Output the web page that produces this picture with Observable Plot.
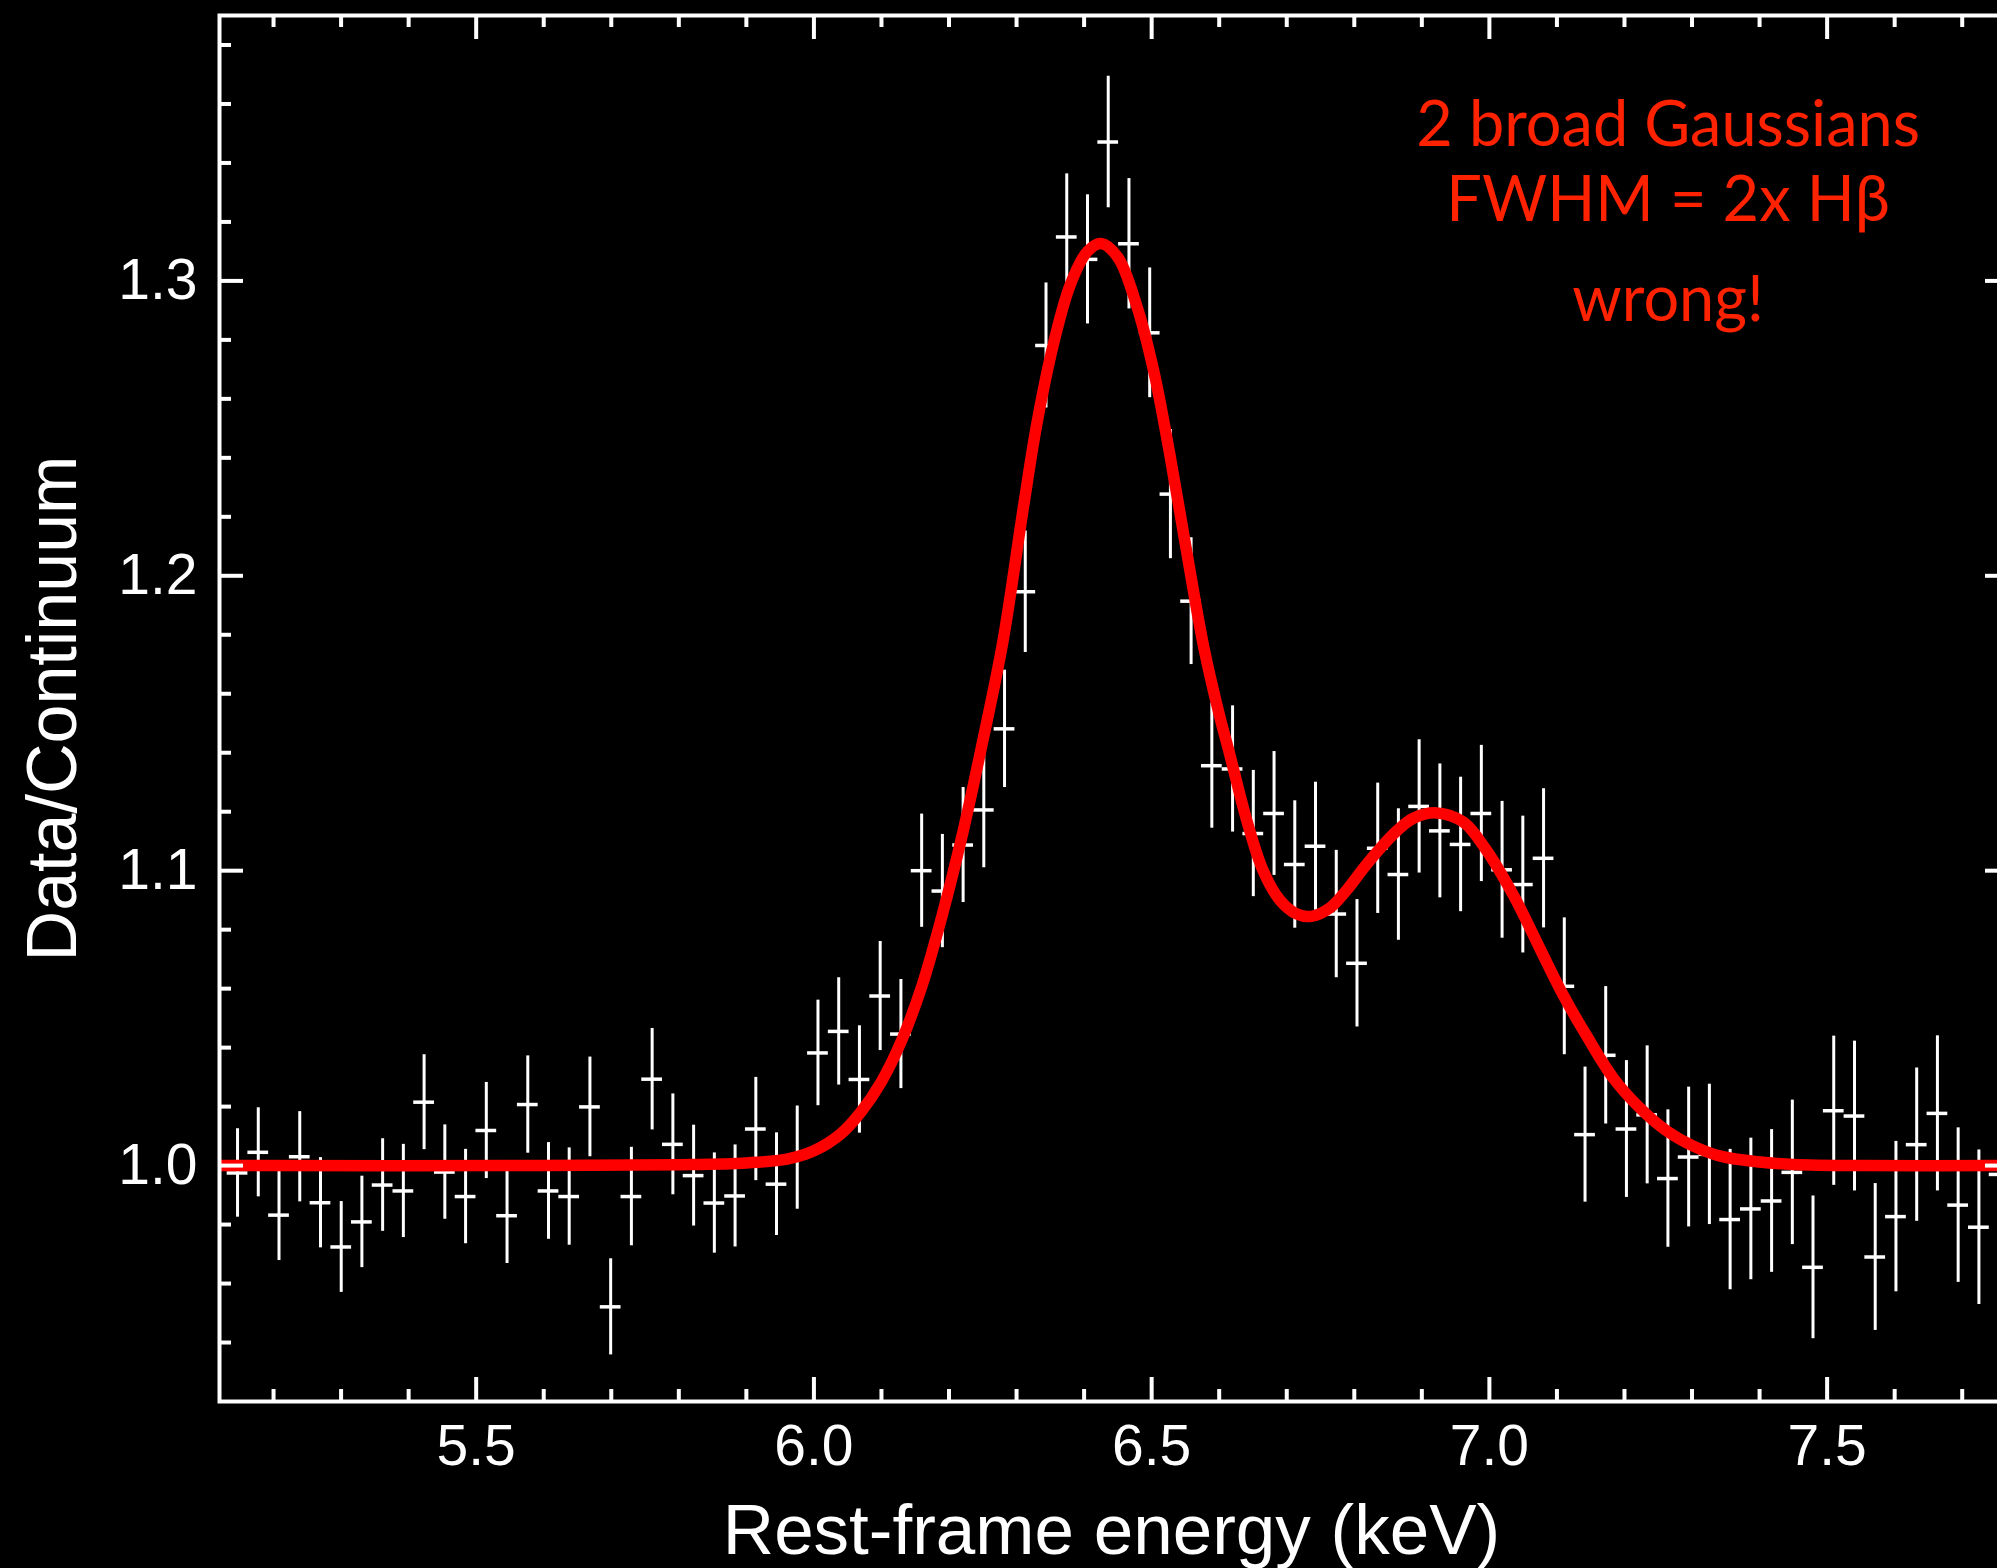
<!DOCTYPE html>
<html>
<head>
<meta charset="utf-8">
<script src="https://cdn.jsdelivr.net/npm/d3@7"></script>
<script src="https://cdn.jsdelivr.net/npm/@observablehq/plot@0.6"></script>
<style>
  html, body { margin: 0; padding: 0; background: #000; }
  #chart svg { display: block; }
</style>
</head>
<body>
<div id="chart"></div>
<script>
// ---- Data ----
const energy = [
  5.1467, 5.1774, 5.2081, 5.2388, 5.2695, 5.3002, 5.3308, 5.3615, 5.3922, 5.4229,
  5.4536, 5.4843, 5.5150, 5.5457, 5.5764, 5.6071, 5.6377, 5.6684, 5.6991, 5.7298,
  5.7605, 5.7912, 5.8219, 5.8526, 5.8833, 5.9140, 5.9446, 5.9753, 6.0060, 6.0367,
  6.0674, 6.0981, 6.1288, 6.1595, 6.1902, 6.2209, 6.2515, 6.2822, 6.3129, 6.3436,
  6.3743, 6.4050, 6.4357, 6.4664, 6.4971, 6.5278, 6.5584, 6.5891, 6.6198, 6.6505,
  6.6812, 6.7119, 6.7426, 6.7733, 6.8040, 6.8347, 6.8653, 6.8960, 6.9267, 6.9574,
  6.9881, 7.0188, 7.0495, 7.0802, 7.1109, 7.1416, 7.1722, 7.2029, 7.2336, 7.2643,
  7.2950, 7.3257, 7.3564, 7.3871, 7.4178, 7.4485, 7.4791, 7.5098, 7.5405, 7.5712,
  7.6019, 7.6326, 7.6633, 7.6940, 7.7247, 7.7554
];
const ratio = [
  0.9975, 1.0045, 0.9832, 1.0030, 0.9874, 0.9724, 0.9809, 0.9934, 0.9914, 1.0215,
  0.9978, 0.9895, 1.0119, 0.9830, 1.0207, 0.9914, 0.9895, 1.0199, 0.9521, 0.9895,
  1.0293, 1.0072, 0.9966, 0.9873, 0.9897, 1.0124, 0.9937, 1.0027, 1.0382, 1.0455,
  1.0292, 1.0575, 1.0446, 1.1000, 1.0931, 1.1087, 1.1206, 1.1481, 1.1946, 1.2781,
  1.3149, 1.3073, 1.3471, 1.3126, 1.2824, 1.2277, 1.1914, 1.1356, 1.1345, 1.1126,
  1.1194, 1.1021, 1.1083, 1.0853, 1.0686, 1.1076, 1.0987, 1.1218, 1.1135, 1.1089,
  1.1194, 1.1003, 1.0953, 1.1042, 1.0608, 1.0105, 1.0374, 1.0124, 1.0172, 0.9956,
  1.0029, 1.0038, 0.9817, 0.9853, 0.9880, 0.9977, 0.9655, 1.0186, 1.0168, 0.9690,
  0.9827, 1.0071, 1.0177, 0.9866, 0.9791, 0.9970
];
const ratioErr = [
  0.0150, 0.0151, 0.0154, 0.0153, 0.0153, 0.0154, 0.0155, 0.0157, 0.0158, 0.0161,
  0.0160, 0.0160, 0.0163, 0.0162, 0.0165, 0.0164, 0.0165, 0.0169, 0.0163, 0.0167,
  0.0172, 0.0171, 0.0171, 0.0170, 0.0173, 0.0175, 0.0174, 0.0175, 0.0179, 0.0182,
  0.0182, 0.0185, 0.0185, 0.0192, 0.0192, 0.0195, 0.0196, 0.0199, 0.0206, 0.0212,
  0.0214, 0.0219, 0.0223, 0.0221, 0.0220, 0.0219, 0.0215, 0.0212, 0.0214, 0.0214,
  0.0210, 0.0216, 0.0217, 0.0216, 0.0216, 0.0221, 0.0223, 0.0226, 0.0227, 0.0228,
  0.0231, 0.0232, 0.0232, 0.0236, 0.0232, 0.0229, 0.0233, 0.0232, 0.0234, 0.0233,
  0.0237, 0.0238, 0.0238, 0.0240, 0.0242, 0.0245, 0.0242, 0.0253, 0.0254, 0.0249,
  0.0255, 0.0260, 0.0263, 0.0262, 0.0262, 0.0262
];
const binHalfWidth = 0.01535;

// Red model curve (2 broad Gaussians)
const modelEnergy = [
  5.12, 5.60, 5.80, 5.90, 5.96, 6.00, 6.04, 6.07, 6.10, 6.13,
  6.16, 6.19, 6.22, 6.25, 6.28, 6.31, 6.33, 6.355, 6.38, 6.405,
  6.425, 6.45, 6.478, 6.503, 6.527, 6.552, 6.577, 6.60, 6.615, 6.641,
  6.665, 6.690, 6.715, 6.736, 6.764, 6.789, 6.8135, 6.838, 6.863, 6.8875,
  6.922, 6.9614, 6.994, 7.036, 7.075, 7.110, 7.144, 7.184, 7.223, 7.263,
  7.302, 7.342, 7.40, 7.45, 7.55, 7.77
];
const modelRatio = [
  1.0000, 1.0000, 1.0003, 1.0009, 1.0022, 1.0050, 1.0108, 1.0183, 1.0285, 1.0425,
  1.0610, 1.0850, 1.1125, 1.1440, 1.1780, 1.2230, 1.2515, 1.2790, 1.2990, 1.3100,
  1.3127, 1.3080, 1.2915, 1.2695, 1.2410, 1.2080, 1.1760, 1.1530, 1.1400, 1.1169,
  1.1000, 1.0900, 1.0853, 1.0845, 1.0874, 1.0935, 1.1008, 1.1075, 1.1135, 1.1178,
  1.1196, 1.1165, 1.1075, 1.0915, 1.0735, 1.0575, 1.0440, 1.0295, 1.0195, 1.0117,
  1.0066, 1.0032, 1.0012, 1.0004, 1.0000, 1.0000
];

const xMajorTicks = [5.5, 6.0, 6.5, 7.0, 7.5];
const xMinorTicks = [5.2, 5.3, 5.4, 5.6, 5.7, 5.8, 5.9, 6.1, 6.2, 6.3, 6.4, 6.6, 6.7, 6.8, 6.9, 7.1, 7.2, 7.3, 7.4, 7.6, 7.7];
const yMajorTicks = [1.0, 1.1, 1.2, 1.3];
const yMinorTicks = [0.94, 0.96, 0.98, 1.02, 1.04, 1.06, 1.08, 1.12, 1.14, 1.16, 1.18, 1.22, 1.24, 1.26, 1.28, 1.32, 1.34, 1.36, 1.38];
const xLabel = "Rest-frame energy (keV)";
const yLabel = "Data/Continuum";
const annotationLines = ["2 broad Gaussians", "FWHM = 2x H\u03B2", "wrong!"];

// ---- Build tables ----
const points = energy.map((e, i) => ({e, r: ratio[i], err: ratioErr[i]}));
const model = modelEnergy.map((e, i) => ({e, r: modelRatio[i]}));

// ---- Layout ----
const W = 1997, H = 1568;
const mLeft = 219, mRight = -12, mTop = 15, mBottom = 167;
const plotW = W - mLeft - mRight;
const plotH = H - mTop - mBottom;
const majorLen = 24, minorLen = 12;
const annX = 7.2646;
const annY = [1.3458, 1.3203, 1.2864];

const chart = Plot.plot({
  width: W,
  height: H,
  marginLeft: mLeft,
  marginRight: mRight,
  marginTop: mTop,
  marginBottom: mBottom,
  style: {
    background: "#000",
    color: "#fff",
    fontFamily: "'Liberation Sans', Arial, Helvetica, sans-serif",
    overflow: "hidden"
  },
  x: {domain: [5.12, 7.77]},
  y: {domain: [0.92, 1.39]},
  marks: [
    // error bars
    Plot.ruleX(points, {x: "e", y1: d => d.r - d.err, y2: d => d.r + d.err, stroke: "#fff", strokeWidth: 3}),
    Plot.ruleY(points, {y: "r", x1: d => d.e - binHalfWidth, x2: d => d.e + binHalfWidth, stroke: "#fff", strokeWidth: 3.5}),
    // model
    Plot.line(model, {x: "e", y: "r", stroke: "#ff0000", strokeWidth: 11.5, curve: "catmull-rom", clip: true}),
    // frame
    Plot.frame({stroke: "#fff", strokeWidth: 4}),
    // inward ticks: bottom / top
    Plot.ruleX(xMajorTicks, {x: d => d, stroke: "#fff", strokeWidth: 4, insetTop: plotH - majorLen}),
    Plot.ruleX(xMinorTicks, {x: d => d, stroke: "#fff", strokeWidth: 4, insetTop: plotH - minorLen}),
    Plot.ruleX(xMajorTicks, {x: d => d, stroke: "#fff", strokeWidth: 4, insetBottom: plotH - majorLen}),
    Plot.ruleX(xMinorTicks, {x: d => d, stroke: "#fff", strokeWidth: 4, insetBottom: plotH - minorLen}),
    // inward ticks: left / right
    Plot.ruleY(yMajorTicks, {y: d => d, stroke: "#fff", strokeWidth: 4, insetRight: plotW - majorLen}),
    Plot.ruleY(yMinorTicks, {y: d => d, stroke: "#fff", strokeWidth: 4, insetRight: plotW - minorLen}),
    Plot.ruleY(yMajorTicks, {y: d => d, stroke: "#fff", strokeWidth: 4, insetLeft: plotW - majorLen}),
    Plot.ruleY(yMinorTicks, {y: d => d, stroke: "#fff", strokeWidth: 4, insetLeft: plotW - minorLen}),
    // tick labels
    Plot.axisX({ticks: xMajorTicks, anchor: "bottom", tickSize: 0, tickPadding: 23, tickFormat: d3.format(".1f"), fontSize: 57, label: null}),
    Plot.axisY({ticks: yMajorTicks, anchor: "left", tickSize: 0, tickPadding: 22, tickFormat: d3.format(".1f"), fontSize: 57, label: null}),
    // axis titles
    Plot.text([yLabel], {frameAnchor: "left", text: d => d, rotate: -90, textAnchor: "middle", lineAnchor: "bottom", dx: -144, fontSize: 70, fill: "#fff"}),
    Plot.text([xLabel], {frameAnchor: "bottom", text: d => d, textAnchor: "middle", lineAnchor: "bottom", dx: -3, dy: 152, fontSize: 71, fill: "#fff"}),
    // annotation
    Plot.text(annotationLines, {x: () => annX, y: (d, i) => annY[i], text: d => d, lineAnchor: "bottom", fontSize: 63, fontFamily: "Lato, 'Open Sans', sans-serif", fill: "#ff2200"})
  ]
});
document.getElementById("chart").appendChild(chart);
</script>
</body>
</html>
